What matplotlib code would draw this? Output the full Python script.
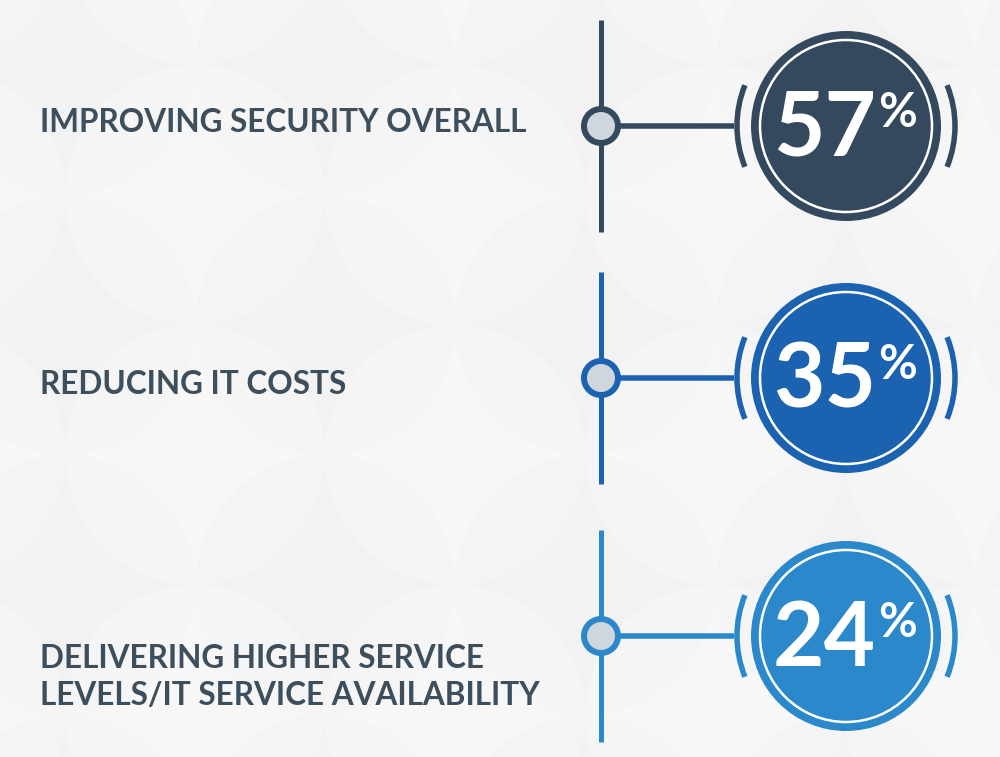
import numpy as np
import matplotlib.pyplot as plt
from matplotlib.patches import Circle, Arc

# survey results
labels = ["IMPROVING SECURITY OVERALL",
          "REDUCING IT COSTS",
          "DELIVERING HIGHER SERVICE\nLEVELS/IT SERVICE AVAILABILITY"]
values = [57, 35, 24]
colors = ["#34495e", "#1b62b0", "#2a88cb"]

row_y = [126, 378, 636]      # dot centre per row (pixels)
label_y = [122, 384, 677]    # label centre per row

PX = 0.72  # points per pixel at dpi 100

fig = plt.figure(figsize=(10, 7.57), dpi=100)
ax = fig.add_axes([0, 0, 1, 1])
ax.set_xlim(0, 1000)
ax.set_ylim(757, 0)
ax.set_aspect("equal")
ax.axis("off")
fig.patch.set_facecolor("#f4f4f5")

# faint circle pattern in the background
for gx in np.arange(-65, 1100, 260):
    for gy in np.arange(-65, 850, 260):
        ax.add_patch(Circle((gx, gy), 130, facecolor="#ffffff", alpha=0.3,
                            edgecolor="none", zorder=0))
        ax.add_patch(Circle((gx + 130, gy + 130), 130, facecolor="#ececee",
                            alpha=0.2, edgecolor="none", zorder=0))

font = "Lato"
dot_x = 601
cx = 846

for i, (lab, val, col) in enumerate(zip(labels, values, colors)):
    y = row_y[i]
    # vertical stem
    ax.plot([dot_x, dot_x], [y - 106, y + 106], color=col, lw=5 * PX,
            solid_capstyle="butt", zorder=2)
    # connector
    ax.plot([dot_x, cx - 112], [y, y], color=col, lw=5.5 * PX,
            solid_capstyle="butt", zorder=2)
    # dot
    ax.add_patch(Circle((dot_x, y), 17, facecolor="#cfd6dd", edgecolor=col,
                        lw=6 * PX, zorder=3))
    # big circle
    ax.add_patch(Circle((cx, y), 95, facecolor=col, edgecolor="none", zorder=3))
    ax.add_patch(Circle((cx, y), 86, facecolor="none", edgecolor="white",
                        lw=2.5 * PX, zorder=4))
    # side arcs
    ax.add_patch(Arc((cx, y), 218, 218, theta1=158, theta2=202, color=col,
                     lw=5.5 * PX, zorder=3))
    ax.add_patch(Arc((cx, y), 218, 218, theta1=-22, theta2=22, color=col,
                     lw=5.5 * PX, zorder=3))
    # value
    ax.text(cx + 30, y + 4, str(val), fontsize=64, fontweight="bold",
            family=font, color="white", ha="right", va="center", zorder=5)
    ax.text(cx + 32, y - 13, "%", fontsize=34, fontweight="bold",
            family=font, color="white", ha="left", va="center", zorder=5)
    # label
    ax.text(40, label_y[i], lab, fontsize=22.7, fontweight="bold", family=font,
            color="#3d4f5c", ha="left", va="center", linespacing=1.3, zorder=5)

fig.savefig("out.png", dpi=100, facecolor=fig.get_facecolor())
